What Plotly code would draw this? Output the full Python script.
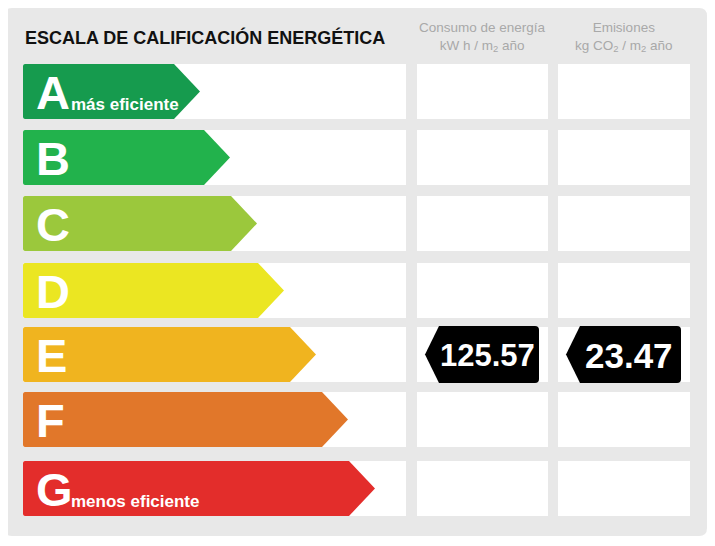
import plotly.graph_objects as go

# ---- data ----
classes = ["A", "B", "C", "D", "E", "F", "G"]
class_colors = ["#169b4e", "#22b24c", "#9bc83c", "#ebe622", "#f0b41f", "#e1772a", "#e32d2b"]
class_notes = ["más eficiente", "", "", "", "", "", "menos eficiente"]
title_text = "ESCALA DE CALIFICACIÓN ENERGÉTICA"
col_headers = ["Consumo de energía<br>kW h / m<sub>2</sub> año",
               "Emisiones<br>kg CO<sub>2</sub> / m<sub>2</sub> año"]
rating = "E"
consumo_value = 125.57
emisiones_value = 23.47
values = [consumo_value, emisiones_value]
value_labels = ["125.57", "23.47"]

# ---- layout constants (pixel space) ----
W, H = 715, 546
OFF = 8  # page body margin
FONT = "Arial, Liberation Sans, sans-serif"
row_tops = [64, 130, 196, 263, 327, 392, 461]
row_h = 55
cols = [(23, 406), (417, 548), (558, 690)]
arrow_tips = [200, 230, 257, 284, 316, 348, 375]
depth = 26


def rounded_rect(x0, y0, x1, y1, r):
    return (f"M {x0+r},{y0} L {x1-r},{y0} Q {x1},{y0} {x1},{y0+r} "
            f"L {x1},{y1-r} Q {x1},{y1} {x1-r},{y1} L {x0+r},{y1} "
            f"Q {x0},{y1} {x0},{y1-r} L {x0},{y0+r} Q {x0},{y0} {x0+r},{y0} Z")


shapes = []
annotations = []

# panel
shapes.append(dict(type="path", path=rounded_rect(4, 8, 707, 536, 8),
                   fillcolor="#e8e8e8", line=dict(width=0), layer="below"))

# white cells
for t in row_tops:
    for (x0, x1) in cols:
        shapes.append(dict(type="rect", x0=x0, x1=x1, y0=t, y1=t + row_h,
                           fillcolor="white", line=dict(width=0), layer="below"))

# arrows
for i, (c, col) in enumerate(zip(classes, class_colors)):
    t = row_tops[i]
    b = t + row_h
    m = (t + b) / 2
    tip = arrow_tips[i]
    body = tip - depth
    x0 = cols[0][0]
    p = (f"M {x0+2},{t} L {body},{t} L {tip},{m} L {body},{b} L {x0+2},{b} "
         f"Q {x0},{b} {x0},{b-2} L {x0},{t+2} Q {x0},{t} {x0+2},{t} Z")
    shapes.append(dict(type="path", path=p, fillcolor=col, line=dict(width=0)))
    annotations.append(dict(x=34, y=m + 1, xref="x", yref="y", text=f"<b>{c}</b>",
                            showarrow=False, xanchor="left", yanchor="middle",
                            font=dict(family=FONT, size=47, color="white")))
    if class_notes[i]:
        annotations.append(dict(x=69, y=m + 13, xref="x", yref="y",
                                text=f"<b>{class_notes[i]}</b>", showarrow=False,
                                xanchor="left", yanchor="middle",
                                font=dict(family=FONT, size=17, color="white")))

# title and headers
annotations.append(dict(x=23, y=37, xref="x", yref="y", text=f"<b>{title_text}</b>",
                        showarrow=False, xanchor="left", yanchor="middle",
                        font=dict(family=FONT, size=18, color="#111111")))
for (x0, x1), h in zip(cols[1:], col_headers):
    annotations.append(dict(x=(x0 + x1) / 2, y=37, xref="x", yref="y", text=h,
                            showarrow=False, xanchor="center", yanchor="middle",
                            font=dict(family=FONT, size=13.5, color="#a9a9a9")))

# value tags
ri = classes.index(rating)
t = row_tops[ri] - 1
b = t + 57
m = (t + b) / 2
sizes = [31, 35]
for (x0, x1), lab, fs in zip(cols[1:], value_labels, sizes):
    pt = x0 + 8
    bl = x0 + 22
    br = x1 - 9
    r = 4
    p = (f"M {pt},{m} L {bl},{t} L {br-r},{t} Q {br},{t} {br},{t+r} "
         f"L {br},{b-r} Q {br},{b} {br-r},{b} L {bl},{b} Z")
    shapes.append(dict(type="path", path=p, fillcolor="black", line=dict(width=0)))
    annotations.append(dict(x=(bl + br) / 2 - 2, y=m + 1, xref="x", yref="y",
                            text=f"<b>{lab}</b>", showarrow=False,
                            xanchor="center", yanchor="middle",
                            font=dict(family=FONT, size=fs, color="white")))

fig = go.Figure()
fig.add_trace(go.Scatter(x=[OFF, W], y=[OFF, H], mode="markers",
                         marker=dict(opacity=0), hoverinfo="skip", showlegend=False))
fig.update_layout(
    width=W - OFF, height=H - OFF, margin=dict(l=0, r=0, t=0, b=0, pad=0),
    paper_bgcolor="white", plot_bgcolor="white",
    xaxis=dict(range=[OFF, W], visible=False, fixedrange=True),
    yaxis=dict(range=[H, OFF], visible=False, fixedrange=True),
    shapes=shapes, annotations=annotations, showlegend=False,
)
fig.write_html("out.html")
